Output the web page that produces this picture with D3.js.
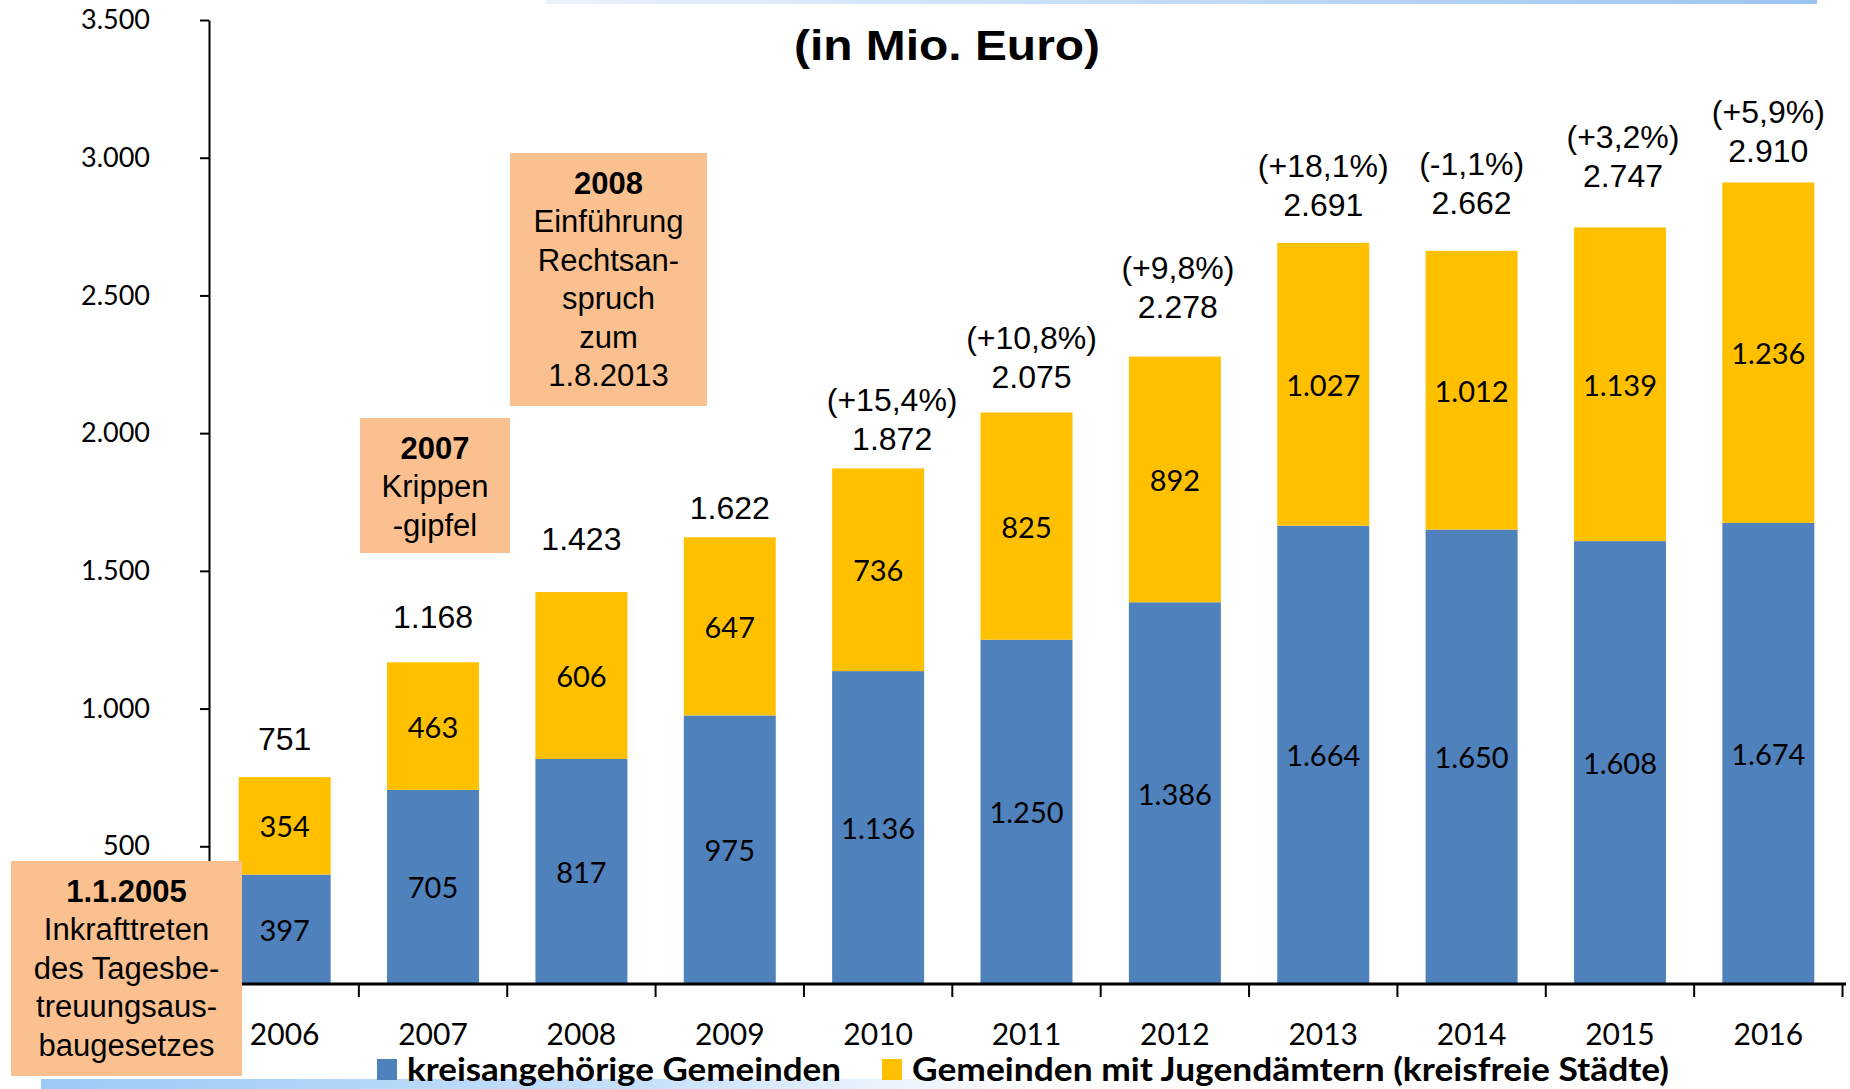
<!DOCTYPE html>
<html>
<head>
<meta charset="utf-8">
<script src="https://cdn.jsdelivr.net/npm/d3@7"></script>
<style>
  body { margin: 0; background: #fff; }
  svg { display: block; }
</style>
</head>
<body>
<div id="chart"></div>
<script>
// values in Mio. Euro
const years = ['2006', '2007', '2008', '2009', '2010', '2011', '2012', '2013', '2014', '2015', '2016']
const kreisangehoerig = [397, 705, 817, 975, 1136, 1250, 1386, 1664, 1650, 1608, 1674]
const kreisfrei = [354, 463, 606, 647, 736, 825, 892, 1027, 1012, 1139, 1236]
const totals = [751, 1168, 1423, 1622, 1872, 2075, 2278, 2691, 2662, 2747, 2910]
const changes = ['', '', '', '', '(+15,4%)', '(+10,8%)', '(+9,8%)', '(+18,1%)', '(-1,1%)', '(+3,2%)', '(+5,9%)']
const yTicks = [500, 1000, 1500, 2000, 2500, 3000, 3500]
const seriesNames = ['kreisangehörige Gemeinden', 'Gemeinden mit Jugendämtern (kreisfreie Städte)']

// hand placed label offsets above each bar, like in the slide
const labelLift = [38, 45, 53, 29, 29, 35, 50, 38, 48, 51, 32]
const labelShift = [0, 0, 0, 0, 14, 5, 3, 0, 0, 3, 0]

const width = 1850
const height = 1089
const margin = { top: 20, right: 6, bottom: 105, left: 209 }

const blue = '#4f81bd'
const yellow = '#ffc000'
const peach = '#fac08f'

const de = d3.formatLocale({ decimal: ',', thousands: '.', grouping: [3], currency: ['', ' €'] })
const fmt = de.format(',')

const svg = d3.select('#chart')
  .append('svg')
  .attr('width', width)
  .attr('height', height)

const defs = svg.append('defs')
const topGrad = defs.append('linearGradient').attr('id', 'topGrad')
topGrad.append('stop').attr('offset', '0%').attr('stop-color', '#eaf2fd')
topGrad.append('stop').attr('offset', '100%').attr('stop-color', '#9cc4f2')
const botGrad = defs.append('linearGradient').attr('id', 'botGrad')
botGrad.append('stop').attr('offset', '0%').attr('stop-color', '#9ccaf6')
botGrad.append('stop').attr('offset', '60%').attr('stop-color', '#c6e0fa')
botGrad.append('stop').attr('offset', '100%').attr('stop-color', '#ffffff')

// decorative slide bands
svg.append('rect').attr('x', 546).attr('y', 0).attr('width', 1271).attr('height', 4).attr('fill', 'url(#topGrad)')
svg.append('rect').attr('x', 41).attr('y', 1079).attr('width', 1000).attr('height', 10).attr('fill', 'url(#botGrad)')

const x = d3.scaleBand()
  .domain(years)
  .range([margin.left, width - margin.right])
  .paddingInner(0.38)
  .paddingOuter(0.2)

const y = d3.scaleLinear()
  .domain([0, 3500])
  .range([height - margin.bottom, margin.top])

const rows = years.map((yr, i) => ({
  year: yr,
  kreisangehoerig: kreisangehoerig[i],
  kreisfrei: kreisfrei[i],
  total: totals[i],
  change: changes[i],
  lift: labelLift[i],
  shift: labelShift[i]
}))

const stack = d3.stack().keys(['kreisangehoerig', 'kreisfrei'])
const layers = stack(rows)
const colors = [blue, yellow]

// bars
const layerG = svg.selectAll('.layer')
  .data(layers)
  .enter()
  .append('g')
  .attr('class', 'layer')
  .attr('fill', (d, i) => colors[i])

layerG.selectAll('rect')
  .data(d => d)
  .enter()
  .append('rect')
  .attr('x', d => x(d.data.year))
  .attr('width', x.bandwidth())
  .attr('y', d => y(d[1]))
  .attr('height', d => y(d[0]) - y(d[1]))

// segment labels
layerG.selectAll('text')
  .data(d => d)
  .enter()
  .append('text')
  .attr('x', d => x(d.data.year) + x.bandwidth() / 2)
  .attr('y', d => (y(d[0]) + y(d[1])) / 2)
  .attr('text-anchor', 'middle')
  .attr('dominant-baseline', 'central')
  .attr('fill', '#000')
  .style('font-family', 'Lato, "Open Sans", sans-serif')
  .style('font-size', '29px')
  .text(d => fmt(d[1] - d[0]))

// totals and changes above bars
const tops = svg.selectAll('.top')
  .data(rows)
  .enter()
  .append('g')
  .attr('class', 'top')
  .style('font-family', '"Liberation Sans", Arial, sans-serif')
  .style('font-size', '32px')
  .attr('fill', '#000')

tops.append('text')
  .attr('x', d => x(d.year) + x.bandwidth() / 2 + d.shift)
  .attr('y', d => y(d.total) - d.lift)
  .attr('text-anchor', 'middle')
  .attr('dominant-baseline', 'central')
  .text(d => fmt(d.total))

tops.append('text')
  .attr('x', d => x(d.year) + x.bandwidth() / 2 + d.shift)
  .attr('y', d => y(d.total) - d.lift - 39)
  .attr('text-anchor', 'middle')
  .attr('dominant-baseline', 'central')
  .text(d => d.change)

// y axis
const yAxis = svg.append('g')
  .attr('transform', 'translate(' + margin.left + ',0)')
  .call(d3.axisLeft(y).tickValues(yTicks).tickSize(9).tickSizeOuter(0).tickPadding(50).tickFormat(fmt))

yAxis.select('.domain').attr('stroke', '#000').attr('stroke-width', 2)
yAxis.selectAll('.tick line').attr('stroke', '#000').attr('stroke-width', 2)
yAxis.selectAll('.tick text')
  .attr('fill', '#000')
  .style('font-family', 'Lato, "Open Sans", sans-serif')
  .style('font-size', '27px')

// x axis
const x0 = y(0)
svg.append('line')
  .attr('x1', margin.left)
  .attr('x2', width - margin.right + 2)
  .attr('y1', x0)
  .attr('y2', x0)
  .attr('stroke', '#000')
  .attr('stroke-width', 3)

svg.selectAll('.xtick')
  .data(years)
  .enter()
  .append('line')
  .attr('class', 'xtick')
  .attr('x1', d => x(d) + x.bandwidth() + x.step() * x.paddingInner() / 2)
  .attr('x2', d => x(d) + x.bandwidth() + x.step() * x.paddingInner() / 2)
  .attr('y1', x0)
  .attr('y2', x0 + 13)
  .attr('stroke', '#000')
  .attr('stroke-width', 2)

svg.selectAll('.xlabel')
  .data(years)
  .enter()
  .append('text')
  .attr('class', 'xlabel')
  .attr('x', d => x(d) + x.bandwidth() / 2)
  .attr('y', x0 + 49)
  .attr('text-anchor', 'middle')
  .attr('dominant-baseline', 'central')
  .style('font-family', 'Lato, "Open Sans", sans-serif')
  .style('font-size', '30px')
  .text(d => d)

// title
svg.append('text')
  .attr('x', 947)
  .attr('y', 45)
  .attr('text-anchor', 'middle')
  .attr('dominant-baseline', 'central')
  .attr('textLength', 306)
  .attr('lengthAdjust', 'spacingAndGlyphs')
  .style('font-family', '"Liberation Sans", Arial, sans-serif')
  .style('font-weight', 'bold')
  .style('font-size', '42px')
  .text('(in Mio. Euro)')

// legend
const legend = svg.append('g')
  .style('font-family', 'Lato, "Open Sans", sans-serif')
  .style('font-weight', 'bold')
  .style('font-size', '32px')

const legendItems = [
  { name: seriesNames[0], color: blue, x: 377, len: 434 },
  { name: seriesNames[1], color: yellow, x: 882, len: 757 }
]

legend.selectAll('rect')
  .data(legendItems)
  .enter()
  .append('rect')
  .attr('x', d => d.x)
  .attr('y', 1059)
  .attr('width', 20)
  .attr('height', 21)
  .attr('fill', d => d.color)

legend.selectAll('text')
  .data(legendItems)
  .enter()
  .append('text')
  .attr('x', d => d.x + 30)
  .attr('y', 1068)
  .attr('dominant-baseline', 'central')
  .attr('textLength', d => d.len)
  .attr('lengthAdjust', 'spacingAndGlyphs')
  .text(d => d.name)

// annotation boxes
const notes = [
  { x: 510, y: 153, w: 197, h: 253, lines: ['2008', 'Einführung', 'Rechtsan-', 'spruch', 'zum', '1.8.2013'] },
  { x: 360, y: 418, w: 150, h: 135, lines: ['2007', 'Krippen', '-gipfel'] },
  { x: 11, y: 861, w: 231, h: 215, lines: ['1.1.2005', 'Inkrafttreten', 'des Tagesbe-', 'treuungsaus-', 'baugesetzes'] }
]

const noteG = svg.selectAll('.note')
  .data(notes)
  .enter()
  .append('g')
  .attr('class', 'note')

noteG.append('rect')
  .attr('x', d => d.x)
  .attr('y', d => d.y)
  .attr('width', d => d.w)
  .attr('height', d => d.h)
  .attr('fill', peach)

noteG.each(function (d) {
  d3.select(this).selectAll('text')
    .data(d.lines)
    .enter()
    .append('text')
    .attr('x', d.x + d.w / 2)
    .attr('y', (l, i) => d.y + 30 + i * 38.5)
    .attr('text-anchor', 'middle')
    .attr('dominant-baseline', 'central')
    .style('font-family', '"Liberation Sans", Arial, sans-serif')
    .style('font-size', '31px')
    .style('font-weight', (l, i) => i === 0 ? 'bold' : 'normal')
    .text(l => l)
})
</script>
</body>
</html>
